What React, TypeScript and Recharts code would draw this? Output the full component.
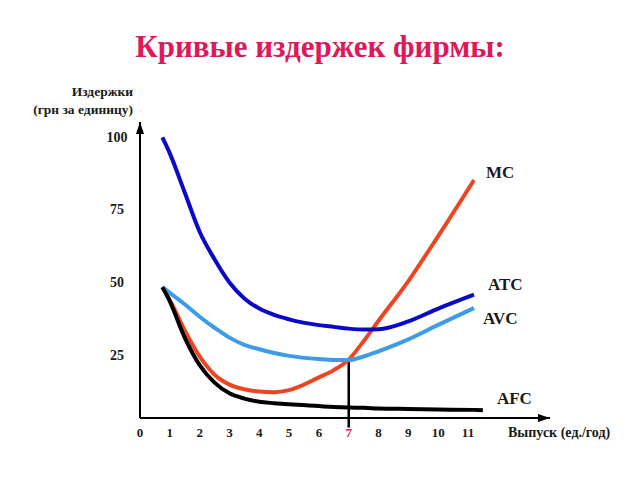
import React from 'react';
import { LineChart, Line, XAxis, YAxis, ReferenceLine } from 'recharts';

// output, units per year
const Q = [0.75, 1, 1.5, 2, 2.5, 3, 3.5, 4, 4.5, 5, 6, 6.5, 7, 7.5, 8, 9, 10, 11.2, 11.5];
// costs, UAH per unit
const ATC = [100, 94.5, 81, 67.5, 58, 50, 44.5, 41, 38.8, 37.3, 35.3, 34.7, 34.1, 33.8, 33.9, 36.6, 41, 45.8, null];
const AVC = [48.4, 46.4, 42.5, 38.2, 34.4, 31, 28.5, 27, 25.7, 24.7, 23.6, 23.3, 23.3, 24.5, 26.3, 30.4, 35.4, 41.2, null];
const MC = [48.4, 44, 33.5, 24.5, 18.2, 14.8, 13.2, 12.4, 12.2, 12.9, 17.3, 19.8, 23.4, 29.8, 36.8, 50.5, 66, 85.3, null];
const AFC = [48.4, 43.5, 31, 21.5, 15.5, 11.8, 10, 8.9, 8.4, 8, 7.4, 7.1, 6.9, 6.8, 6.6, 6.4, 6.2, 6.1, 6];

const X_TICKS = [0, 1, 2, 3, 4, 5, 6, 7, 8, 9, 10, 11];
const Y_TICKS = [25, 50, 75, 100];
const Q_MARK = 7;
const AVC_MIN = 23.3;

const data = Q.map((q, i) => ({ q, atc: ATC[i], avc: AVC[i], mc: MC[i], afc: AFC[i] }));

const FONT = '"Liberation Serif", "Times New Roman", serif';
const PINK = '#dc1a5a';
const TEXT = '#1a1a1a';

const SERIES = [
  { key: 'mc', name: 'MC', values: MC, color: '#ee4520', dx: 12, dy: -8 },
  { key: 'atc', name: 'ATC', values: ATC, color: '#0a0ac8', dx: 14, dy: -10 },
  { key: 'avc', name: 'AVC', values: AVC, color: '#3c9ce8', dx: 9, dy: 10 },
  { key: 'afc', name: 'AFC', values: AFC, color: '#000000', dx: 14, dy: -12 },
];

const lastIndex = (arr: (number | null)[]) => {
  for (let i = arr.length - 1; i >= 0; i--) if (arr[i] != null) return i;
  return -1;
};

const XTick = ({ x, y, payload }: any) => (
  <text
    x={x}
    y={y}
    dy={11}
    textAnchor="middle"
    fontFamily={FONT}
    fontWeight="bold"
    fontSize={13}
    fill={payload.value === Q_MARK ? PINK : TEXT}
  >
    {payload.value}
  </text>
);

const YTick = ({ x, y, payload }: any) => (
  <text
    x={x - 15}
    y={y}
    textAnchor="middle"
    dominantBaseline="central"
    fontFamily={FONT}
    fontWeight="bold"
    fontSize={14}
    fill={TEXT}
  >
    {payload.value}
  </text>
);

export default function App() {
  return (
    <div style={{ position: 'absolute', left: 0, top: 0, width: 640, height: 480, background: '#fff', fontFamily: FONT }}>
      <div
        style={{
          position: 'absolute', top: 30, left: 0, width: 640, textAlign: 'center',
          fontSize: 31, lineHeight: '34px', fontWeight: 'bold', color: PINK,
        }}
      >
        Кривые издержек фирмы:
      </div>
      <div
        style={{
          position: 'absolute', top: 83, right: 507, textAlign: 'right', whiteSpace: 'nowrap',
          fontSize: 13.5, lineHeight: '18px', fontWeight: 'bold', color: TEXT,
        }}
      >
        Издержки<br />(грн за единицу)
      </div>
      <div
        style={{
          position: 'absolute', top: 425, left: 508, whiteSpace: 'nowrap',
          fontSize: 14, lineHeight: '16px', fontWeight: 'bold', color: TEXT,
        }}
      >
        Выпуск (ед./год)
      </div>

      <LineChart width={640} height={480} data={data} margin={{ top: 122, right: 90, bottom: 32, left: 100 }}>
        <defs>
          <marker
            id="arrowHead"
            viewBox="0 0 12 8"
            refX="12"
            refY="4"
            markerWidth="12"
            markerHeight="8"
            markerUnits="userSpaceOnUse"
            orient="auto-start-reverse"
          >
            <path d="M0,0 L12,4 L0,8 z" fill="#000" />
          </marker>
        </defs>
        <XAxis
          dataKey="q"
          type="number"
          domain={[0, 13.75]}
          allowDataOverflow
          ticks={X_TICKS}
          interval={0}
          height={30}
          tickLine={false}
          axisLine={{ stroke: '#000', strokeWidth: 2, markerEnd: 'url(#arrowHead)' }}
          tick={<XTick />}
        />
        <YAxis
          type="number"
          domain={[3.3, 105.3]}
          allowDataOverflow
          ticks={Y_TICKS}
          interval={0}
          width={40}
          tickLine={false}
          axisLine={{ stroke: '#000', strokeWidth: 2, markerStart: 'url(#arrowHead)' }}
          tick={<YTick />}
        />
        <ReferenceLine
          segment={[{ x: Q_MARK, y: AVC_MIN }, { x: Q_MARK, y: 0 }]}
          stroke="#000"
          strokeWidth={2.5}
          ifOverflow="visible"
        />
        {SERIES.map((s) => {
          const li = lastIndex(s.values);
          return (
            <Line
              key={s.key}
              dataKey={s.key}
              type="monotone"
              stroke={s.color}
              strokeWidth={4}
              dot={false}
              activeDot={false}
              isAnimationActive={false}
              label={(p: any) =>
                p.index === li ? (
                  <text
                    key={`lbl-${s.key}`}
                    x={p.x + s.dx}
                    y={p.y + s.dy}
                    dominantBaseline="central"
                    fontFamily={FONT}
                    fontWeight="bold"
                    fontSize={17}
                    fill={TEXT}
                  >
                    {s.name}
                  </text>
                ) : (
                  <g key={`lbl-${s.key}-${p.index}`} />
                )
              }
            />
          );
        })}
      </LineChart>
    </div>
  );
}
